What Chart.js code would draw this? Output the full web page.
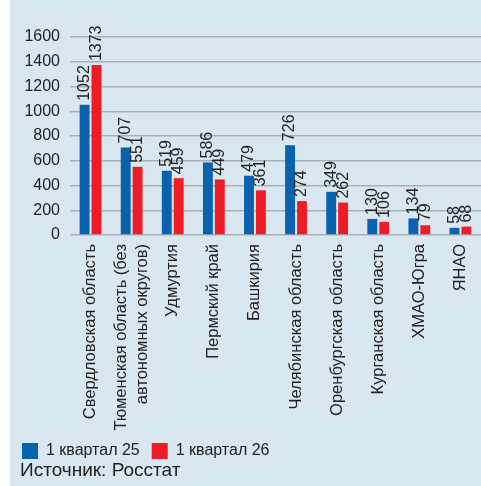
<!DOCTYPE html>
<html>
<head>
<meta charset="utf-8">
<script src="https://cdn.jsdelivr.net/npm/chart.js@4/dist/chart.umd.min.js"></script>
<style>
  html, body { margin: 0; padding: 0; background: #ffffff; }
  #wrap { position: absolute; left: 10px; top: 0; width: 471px; height: 486px; background: #d8e7f0; }
</style>
</head>
<body>
<div id="wrap"><canvas id="myChart" width="471" height="486"></canvas></div>
<script>
// regions (multi-line label as array)
var regions = [
    'Свердловская область',
    ['Тюменская область (без', 'автономных округов)'],
    'Удмуртия',
    'Пермский край',
    'Башкирия',
    'Челябинская область',
    'Оренбургская область',
    'Курганская область',
    'ХМАО-Югра',
    'ЯНАО'
];
var seriesNames = ['1 квартал 25', '1 квартал 26'];
var q1y25 = [1052, 707, 519, 586, 479, 726, 349, 130, 134, 58];
var q1y26 = [1373, 551, 459, 449, 361, 274, 262, 106, 79, 68];
var yMin = 0, yMax = 1600, yStep = 200;
var sourceText = 'Источник: Росстат';

var FONT = '"Liberation Sans", Arial, sans-serif';
var TEXT = '#222222';

// rotated value labels above bars, rotated category labels, source line
var extraText = {
    id: 'extraText',
    afterDatasetsDraw: function (chart) {
        var ctx = chart.ctx;
        ctx.save();
        ctx.fillStyle = TEXT;
        ctx.font = '16px ' + FONT;
        ctx.textAlign = 'left';
        ctx.textBaseline = 'middle';
        chart.data.datasets.forEach(function (ds, i) {
            chart.getDatasetMeta(i).data.forEach(function (bar, j) {
                ctx.save();
                ctx.translate(bar.x, bar.y - 4);
                ctx.rotate(-Math.PI / 2);
                ctx.fillText(String(ds.data[j]), 0, 0);
                ctx.restore();
            });
        });

        // category labels
        var xs = chart.scales.x;
        var top = chart.chartArea.bottom + 9;
        ctx.font = '16.5px ' + FONT;
        ctx.textAlign = 'right';
        chart.data.labels.forEach(function (lab, i) {
            var lines = Array.isArray(lab) ? lab : [lab];
            var x = xs.getPixelForValue(i);
            lines.forEach(function (line, k) {
                var off = (k - (lines.length - 1) / 2) * 21;
                ctx.save();
                ctx.translate(x + off, top);
                ctx.rotate(-Math.PI / 2);
                ctx.fillText(line, 0, 0);
                ctx.restore();
            });
        });

        // source
        ctx.font = '19px ' + FONT;
        ctx.textAlign = 'left';
        ctx.textBaseline = 'alphabetic';
        ctx.fillText(sourceText, 10, 475.5);
        ctx.restore();
    }
};

var ctx = document.getElementById('myChart');

const myChart = new Chart(ctx, {
    type: 'bar',
    data: {
        labels: regions,
        datasets: [{
            label: seriesNames[0],
            data: q1y25,
            backgroundColor: '#0862ae',
            borderWidth: 0,
            categoryPercentage: 0.58,
            barPercentage: 0.83
        }, {
            label: seriesNames[1],
            data: q1y26,
            backgroundColor: '#ee1c25',
            borderWidth: 0,
            categoryPercentage: 0.58,
            barPercentage: 0.83
        }]
    },
    options: {
        responsive: false,
        animation: false,
        events: [],
        layout: { padding: { top: 37, left: 0, right: 0, bottom: 17 } },
        scales: {
            x: {
                grid: { display: false },
                border: { display: false },
                ticks: { display: false },
                afterFit: function (scale) {
                    scale.height = 196;
                    scale.paddingLeft = 0;
                    scale.paddingRight = 0;
                }
            },
            y: {
                min: yMin,
                max: yMax,
                grid: { color: '#a9afb4', lineWidth: 1.5, drawTicks: false },
                border: { display: false },
                ticks: {
                    stepSize: yStep,
                    padding: 10,
                    color: TEXT,
                    font: { family: FONT, size: 16 },
                    callback: function (v) { return String(v); }
                },
                afterFit: function (scale) { scale.width = 60; }
            }
        },
        plugins: {
            tooltip: { enabled: false },
            legend: {
                position: 'bottom',
                align: 'start',
                labels: {
                    boxWidth: 16,
                    boxHeight: 16,
                    padding: 12,
                    color: TEXT,
                    font: { family: FONT, size: 16 }
                }
            }
        }
    },
    plugins: [extraText]
});
</script>
</body>
</html>
